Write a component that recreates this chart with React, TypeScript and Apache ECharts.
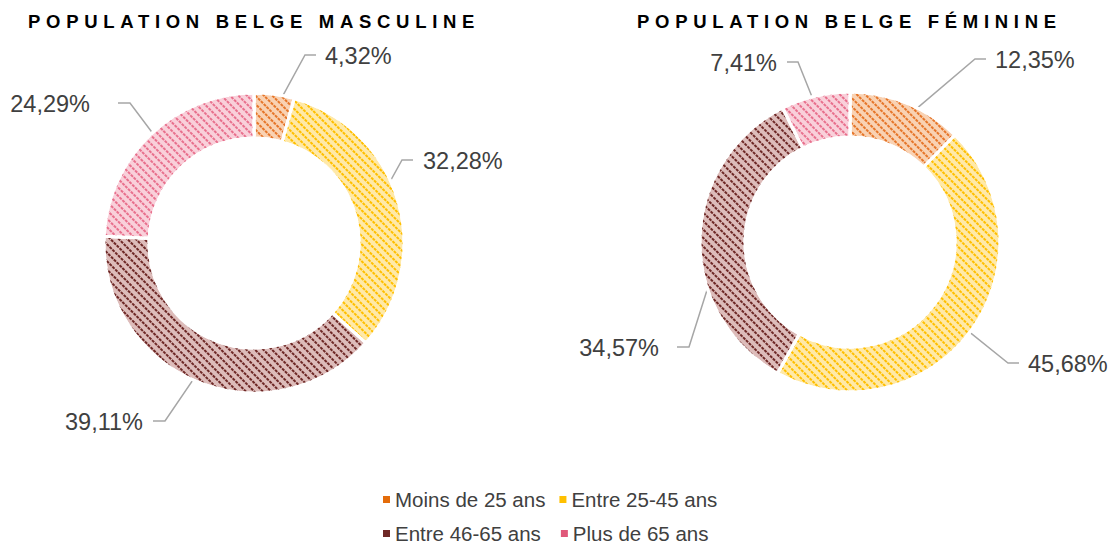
import React, { useEffect, useRef } from 'react';
import * as echarts from 'echarts';

// ---- data ----
const categories = ['Moins de 25 ans', 'Entre 25-45 ans', 'Entre 46-65 ans', 'Plus de 65 ans'];
const maleValues = [4.32, 32.28, 39.11, 24.29];
const femaleValues = [12.35, 45.68, 34.57, 7.41];
const titles = ['POPULATION BELGE MASCULINE', 'POPULATION BELGE FÉMININE'];
const legendRow1 = [categories[0], categories[1]];
const legendRow2 = [categories[2], categories[3]];

// ---- styles / layout ----
const FONT = 'Liberation Sans, Arial, sans-serif';
const legendColors = ['#E46C0A', '#FFC000', '#6E2826', '#E0587A'];
const fillColors = ['#F9D2B3', '#FFE9A8', '#DDBCBA', '#F9D0DA'];
const stripeColors = ['#E6762A', '#FFBF00', '#6E2826', '#E8708D'];
const CENTERS: number[][] = [[254, 243], [850, 242]];
const OUTER = 150;
const INNER = 105;
const MID = 127;
const TITLE_LEFT = [28, 637];

type LabelPos = { lineY: number; bendX: number; endX: number; textX: number; side: 'left' | 'right' };
const maleLabelPos: LabelPos[] = [
  { lineY: 55, bendX: 305, endX: 316, textX: 325, side: 'left' },
  { lineY: 160, bendX: 402, endX: 413, textX: 423, side: 'left' },
  { lineY: 421, bendX: 165, endX: 153, textX: 143, side: 'right' },
  { lineY: 103, bendX: 130, endX: 118, textX: 90, side: 'right' },
];
const femaleLabelPos: LabelPos[] = [
  { lineY: 59, bendX: 975, endX: 986, textX: 995, side: 'left' },
  { lineY: 363, bendX: 1008, endX: 1019, textX: 1028, side: 'left' },
  { lineY: 347, bendX: 689, endX: 677, textX: 659, side: 'right' },
  { lineY: 62, bendX: 798, endX: 787, textX: 777, side: 'right' },
];
const labelPositions = [maleLabelPos, femaleLabelPos];

function midPoint(s: number, values: number[], idx: number, p0?: number[]) {
  const [cx, cy] = CENTERS[s];
  if (p0 && isFinite(p0[0]) && isFinite(p0[1])) {
    const dx = p0[0] - cx;
    const dy = p0[1] - cy;
    const d = Math.sqrt(dx * dx + dy * dy) || 1;
    return [cx + (dx / d) * MID, cy + (dy / d) * MID];
  }
  const total = values.reduce((a, b) => a + b, 0);
  let cum = 0;
  for (let i = 0; i < idx; i++) cum += values[i];
  const ang = ((cum + values[idx] / 2) / total) * Math.PI * 2;
  return [cx + Math.sin(ang) * MID, cy - Math.cos(ang) * MID];
}

function makePie(s: number, values: number[]) {
  return {
    type: 'pie',
    center: CENTERS[s],
    radius: [INNER, OUTER],
    startAngle: 90,
    clockwise: true,
    avoidLabelOverlap: false,
    silent: true,
    emphasis: { disabled: true },
    itemStyle: { borderColor: '#ffffff', borderWidth: 3 },
    label: {
      show: true,
      position: 'outside',
      formatter: (p: any) => Number(p.value).toFixed(2).replace('.', ',') + '%',
      fontSize: 23.5,
      color: '#404040',
      fontFamily: FONT,
    },
    labelLine: {
      show: true,
      length: 20,
      length2: 10,
      lineStyle: { color: '#A6A6A6', width: 1.5 },
    },
    labelLayout: (params: any) => {
      const pos = labelPositions[s][params.dataIndex];
      const p0 = params.labelLinePoints && params.labelLinePoints[0];
      const start = midPoint(s, values, params.dataIndex, p0);
      return {
        x: pos.textX,
        y: pos.lineY + 1,
        align: pos.side,
        verticalAlign: 'middle',
        labelLinePoints: [start, [pos.bendX, pos.lineY], [pos.endX, pos.lineY]],
      };
    },
    data: values.map((v, i) => ({
      name: categories[i],
      value: v,
      itemStyle: {
        color: fillColors[i],
        decal: {
          symbol: 'rect',
          symbolSize: 1,
          dashArrayX: [3, 1],
          dashArrayY: [1.7, 3.3],
          rotation: Math.PI / 4,
          color: stripeColors[i],
        },
      },
    })),
  };
}

function makeLegend(names: string[], offset: number, top: number, gap: number) {
  return {
    data: names.map((n, i) => ({ name: n, itemStyle: { color: legendColors[offset + i] } })),
    left: 383,
    top,
    padding: 0,
    orient: 'horizontal',
    itemGap: gap,
    itemWidth: 7,
    itemHeight: 7,
    icon: 'rect',
    selectedMode: false,
    itemStyle: { decal: 'none', borderWidth: 0 },
    textStyle: { fontSize: 20.5, color: '#404040', fontFamily: FONT },
  };
}

export default function App() {
  const ref = useRef<HTMLDivElement>(null);
  useEffect(() => {
    if (!ref.current) return;
    const chart = echarts.init(ref.current, null, { renderer: 'svg' });
    chart.setOption({
      animation: false,
      backgroundColor: '#ffffff',
      title: titles.map((t, i) => ({
        text: t,
        left: TITLE_LEFT[i],
        top: 12,
        padding: 0,
        textStyle: { fontSize: 18.5, fontWeight: 'bold', color: '#000000', fontFamily: FONT },
      })),
      legend: [makeLegend(legendRow1, 0, 489, 14), makeLegend(legendRow2, 2, 523, 20)],
      series: [makePie(0, maleValues), makePie(1, femaleValues)],
    });
    return () => chart.dispose();
  }, []);
  return (
    <div style={{ position: 'fixed', left: 0, top: 0, width: 1110, height: 544, background: '#fff' }}>
      <style>{`.pie-chart svg text[style*="bold"]{letter-spacing:5.7px;}`}</style>
      <div ref={ref} className="pie-chart" style={{ width: 1110, height: 544 }} />
    </div>
  );
}
